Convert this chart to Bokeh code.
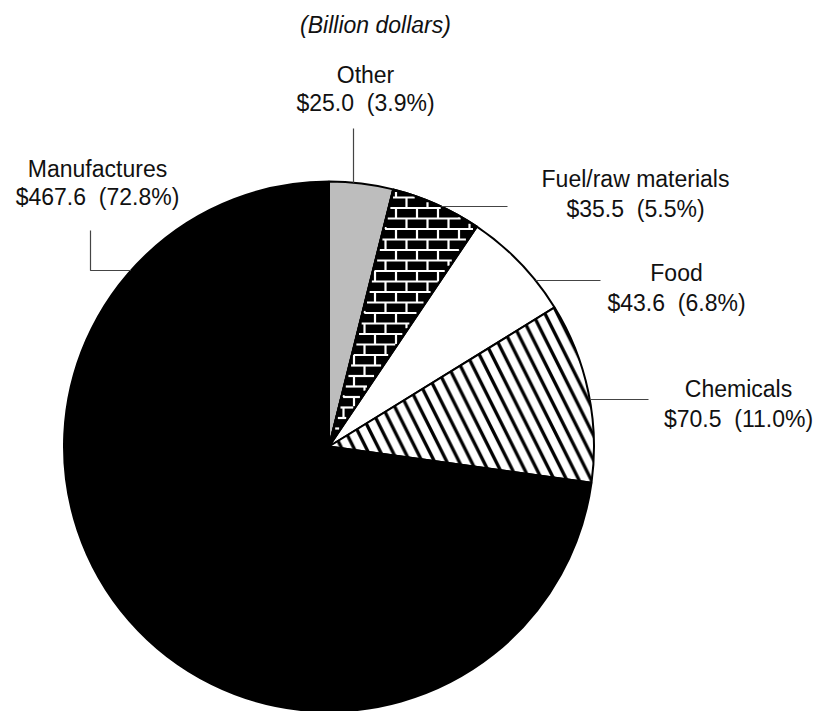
import math
from bokeh.plotting import figure
from bokeh.models import Range1d, ColumnDataSource
from bokeh.core.properties import value
from bokeh.embed import file_html
from bokeh.resources import INLINE

# ---- data ----
categories = ["Other", "Fuel/raw materials", "Food", "Chemicals", "Manufactures"]
values = [25.0, 35.5, 43.6, 70.5, 467.6]
title_text = "(Billion dollars)"

total = sum(values)
percents = [v / total * 100 for v in values]
value_labels = ["$%.1f\u00a0\u00a0(%.1f%%)" % (v, pc) for v, pc in zip(values, percents)]

# ---- layout (coords = window pixels, y measured from top) ----
W, H = 815, 711
FONT = "Liberation Sans"
CX, CY_IMG, R = 328.5, 446.0, 265.0

def yd(y_img):
    return H - y_img

CY = yd(CY_IMG)

p = figure(width=W, height=H, x_range=Range1d(0, W), y_range=Range1d(0, H),
           output_backend="svg", toolbar_location=None, min_border=0)
p.axis.visible = False
p.grid.visible = False
p.outline_line_color = None
p.background_fill_color = "white"

# wedge angles, clockwise from 12 o'clock
starts, ends = [], []
cum = 0.0
for v in values:
    a0 = math.pi / 2 - cum / total * 2 * math.pi
    cum += v
    a1 = math.pi / 2 - cum / total * 2 * math.pi
    starts.append(a0)
    ends.append(a1)

fills = ["#bdbdbd", "black", "white", "white", "black"]
for i in range(len(values)):
    kw = {}
    if categories[i] == "Chemicals":
        kw = dict(hatch_pattern="left_diagonal_line", hatch_color="black", hatch_weight=3.3,
                  hatch_scale=24.6)
    p.wedge(x=CX, y=CY, radius=R, start_angle=starts[i], end_angle=ends[i],
            direction="clock", fill_color=fills[i], line_color="black", line_width=2, **kw)

# ---- brick texture for the Fuel/raw materials wedge (white mortar on black) ----
bi = categories.index("Fuel/raw materials")
b_hi, b_lo = starts[bi], ends[bi]
PITCH_Y, PITCH_X, MORTAR, SHRINK = 10.5, 21.0, 2.2, 1.6

def inside(x, y):
    dx, dy = x - CX, y - CY
    if math.hypot(dx, dy) > R - SHRINK:
        return False
    ang = math.atan2(dy, dx)
    if not (b_lo <= ang <= b_hi):
        return False
    d_hi = abs(dx * math.sin(b_hi) - dy * math.cos(b_hi))
    d_lo = abs(dx * math.sin(b_lo) - dy * math.cos(b_lo))
    return d_hi >= SHRINK and d_lo >= SHRINK

def clip(x0, y0, x1, y1, n=300):
    pts = []
    for k in range(n + 1):
        t = k / n
        x, y = x0 + (x1 - x0) * t, y0 + (y1 - y0) * t
        if inside(x, y):
            pts.append((x, y))
    if len(pts) < 2:
        return None
    return pts[0], pts[-1]

sx0, sy0, sx1, sy1 = [], [], [], []
y_base = CY - 3.0
nrows = int(R / PITCH_Y) + 2
for k in range(nrows):
    y = y_base + k * PITCH_Y
    seg = clip(CX, y, CX + R, y, n=600)
    if seg:
        sx0.append(seg[0][0]); sy0.append(seg[0][1]); sx1.append(seg[1][0]); sy1.append(seg[1][1])
    # vertical joints in the row above this line
    off = (k % 2) * (PITCH_X / 2)
    j = 0
    while True:
        x = CX + 4.0 + off + j * PITCH_X
        if x > CX + R:
            break
        seg = clip(x, y, x, y + PITCH_Y, n=40)
        if seg:
            sx0.append(seg[0][0]); sy0.append(seg[0][1]); sx1.append(seg[1][0]); sy1.append(seg[1][1])
        j += 1

p.segment(x0=sx0, y0=sy0, x1=sx1, y1=sy1, line_color="white", line_width=MORTAR,
          line_cap="butt")
p.wedge(x=CX, y=CY, radius=R, start_angle=starts[bi], end_angle=ends[bi],
        direction="clock", fill_color=None, line_color="black", line_width=2)

# ---- leader lines ----
def edge_x(y_img, side):
    dy = y_img - CY_IMG
    return CX + side * math.sqrt(R * R - dy * dy)

def edge_y(x_img):
    dx = x_img - CX
    return CY_IMG - math.sqrt(R * R - dx * dx)

lx, ly = [], []
lx.append([353, 353]); ly.append([yd(128), yd(edge_y(353))])
lx.append([edge_x(206, 1), 507]); ly.append([yd(206), yd(206)])
lx.append([edge_x(280, 1), 600]); ly.append([yd(280), yd(280)])
lx.append([edge_x(399, 1), 648]); ly.append([yd(399), yd(399)])
lx.append([90, 90, edge_x(270, -1)]); ly.append([yd(230), yd(270), yd(270)])
p.multi_line(xs=lx, ys=ly, line_color="#444444", line_width=1.2)

# ---- labels ----
label_x = [365, 635, 676, 738, 97]
name_y = [74, 178, 272, 388, 168]
val_y = [102, 208, 302, 418, 196]

src = ColumnDataSource(dict(
    x=label_x + label_x,
    y=[yd(v) for v in name_y] + [yd(v) for v in val_y],
    t=categories + value_labels,
))
p.text(x="x", y="y", text="t", source=src, text_font=value(FONT), text_font_size="23px",
       text_align="center", text_baseline="middle", text_color="#111111")

p.text(x=[375], y=[yd(24)], text=[title_text], text_font=value(FONT), text_font_size="23px",
       text_font_style="italic", text_align="center", text_baseline="middle",
       text_color="#111111")

open("out.html", "w").write(file_html(p, INLINE))
